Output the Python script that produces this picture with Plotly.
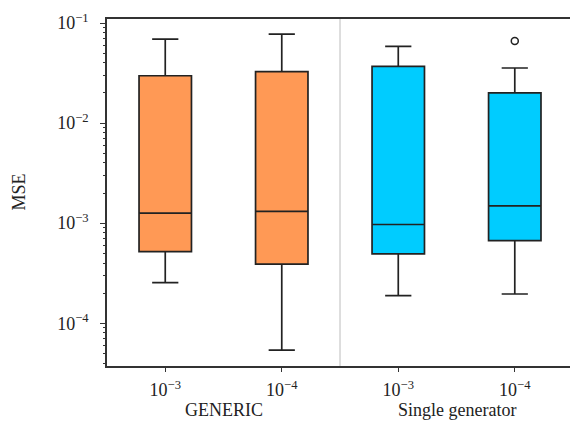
import plotly.graph_objects as go

positions = [0, 1, 2, 3]
tick_labels = ["10<sup>−3</sup>", "10<sup>−4</sup>", "10<sup>−3</sup>", "10<sup>−4</sup>"]
groups = ["GENERIC", "GENERIC", "Single generator", "Single generator"]
lower = [2.55e-4, 5.4e-5, 1.89e-4, 1.96e-4]
q1 = [5.2e-4, 3.9e-4, 4.93e-4, 6.7e-4]
median = [1.26e-3, 1.31e-3, 9.7e-4, 1.49e-3]
q3 = [0.0297, 0.0326, 0.0368, 0.0200]
upper = [0.069, 0.0776, 0.0584, 0.0355]
outlier_pos = [3]
outlier_val = [0.066]
colors = ["#ff9955", "#ff9955", "#00ccff", "#00ccff"]
group_names = ["GENERIC", "Single generator"]
group_centers = [0.5, 2.5]
y_tickvals = [1e-4, 1e-3, 1e-2, 1e-1]
y_ticktext = ["10<sup>−4</sup>", "10<sup>−3</sup>", "10<sup>−2</sup>", "10<sup>−1</sup>"]

FONT = "Liberation Serif"

fig = go.Figure()
for i in range(len(positions)):
    fig.add_trace(go.Box(
        x=[positions[i]], q1=[q1[i]], median=[median[i]], q3=[q3[i]],
        lowerfence=[lower[i]], upperfence=[upper[i]],
        fillcolor=colors[i], line=dict(color="#222222", width=1.7),
        width=0.45, whiskerwidth=0.5, boxpoints=False, showlegend=False,
    ))

fig.add_trace(go.Scatter(
    x=outlier_pos, y=outlier_val, mode="markers",
    marker=dict(symbol="circle-open", size=7, color="#222222", line=dict(width=1.5)),
    showlegend=False,
))

fig.add_shape(type="line", x0=1.5, x1=1.5, y0=0, y1=1, xref="x", yref="paper",
              line=dict(color="#c8c8c8", width=1.2), layer="below")

for name, c in zip(group_names, group_centers):
    fig.add_annotation(x=c, y=-0.127, xref="x", yref="paper", text=name,
                       showarrow=False, yanchor="middle",
                       font=dict(family=FONT, size=18, color="#222222"))

fig.add_annotation(x=-0.192, y=0.5, xref="paper", yref="paper", text="MSE",
                   showarrow=False, textangle=-90, xanchor="center", yanchor="middle",
                   font=dict(family=FONT, size=18, color="#222222"))

fig.update_layout(
    width=570, height=425,
    margin=dict(l=107, r=0, t=19, b=59),
    plot_bgcolor="white", paper_bgcolor="white",
    font=dict(family=FONT, size=18, color="#222222"),
    xaxis=dict(
        range=[-0.5, 3.474], tickmode="array", tickvals=positions, ticktext=tick_labels,
        showline=True, linecolor="#333333", linewidth=1.5, mirror=True,
        ticks="outside", ticklen=4, tickcolor="#333333", showgrid=False, zeroline=False,
        tickfont=dict(family=FONT, size=18, color="#222222"), ticklabelstandoff=3,
    ),
    yaxis=dict(
        type="log", range=[-4.427, -0.96],
        tickmode="array", tickvals=y_tickvals, ticktext=y_ticktext,
        showline=True, linecolor="#333333", linewidth=1.5,
        ticks="outside", ticklen=5, tickcolor="#333333", showgrid=False, zeroline=False,
        minor=dict(ticks="outside", ticklen=2.5, tickcolor="#333333", dtick="D1", showgrid=False),
        tickfont=dict(family=FONT, size=18, color="#222222"), ticklabelstandoff=8,
    ),
)

fig.write_html("out.html")
